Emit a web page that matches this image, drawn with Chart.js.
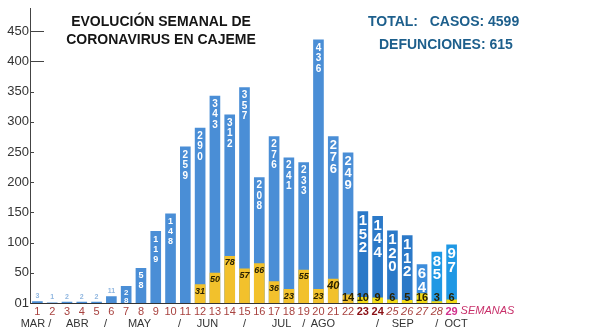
<!DOCTYPE html>
<html>
<head>
<meta charset="utf-8">
<script src="https://cdn.jsdelivr.net/npm/chart.js@4.4.1/dist/chart.umd.min.js"></script>
<style>
  html, body { margin: 0; padding: 0; background: #fff; }
  #wrap { width: 593px; height: 327px; position: relative; }
</style>
</head>
<body>
<div id="wrap"><canvas id="chart"></canvas></div>
<script>
// Weekly data
const weeks = ['1', '2', '3', '4', '5', '6', '7', '8', '9', '10', '11', '12', '13', '14', '15',
               '16', '17', '18', '19', '20', '21', '22', '23', '24', '25', '26', '27', '28', '29'];
const cases = [3, 1, 2, 2, 2, 11, 28, 58, 119, 148, 259, 290, 343, 312, 357,
               208, 276, 241, 233, 436, 276, 249, 152, 144, 120, 112, 64, 85, 97];
const deaths = [0, 0, 0, 0, 0, 0, 0, 0, 0, 0, 0, 31, 50, 78, 57,
                66, 36, 23, 55, 23, 40, 14, 10, 9, 6, 5, 16, 3, 6];

const yTickValues = [0, 50, 100, 150, 200, 250, 300, 350, 400, 450];
const yTickLabels = ['01', '50', '100', '150', '200', '250', '300', '350', '400', '450'];

// month names under the week numbers, placed by week index
const monthLabels = ['MAR /', 'ABR', '/', 'MAY', '/', 'JUN', '/', 'JUL', '/', 'AGO', '/', 'SEP', '/', 'OCT'];
const monthAt = [-0.1, 2.7, 4.6, 6.9, 9.6, 11.5, 14, 16.5, 18, 19.3, 23, 24.7, 27, 28.3];

const titleLines = ['EVOLUCIÓN SEMANAL DE', 'CORONAVIRUS EN CAJEME'];
const totalLines = ['TOTAL:   CASOS: 4599', 'DEFUNCIONES: 615'];

const FONT = '"Liberation Sans", Arial, sans-serif';
Chart.defaults.font.family = FONT;

// Bar colours
function caseColor(i) {
    if (i >= 27) return '#1f98e4';
    if (i === 26) return '#3d8ddb';
    if (i >= 22) return '#2b79c8';
    return '#4a8ed6';
}
function deathColor(i) {
    if (i >= 22) return '#f3dc16';
    return '#f2c12c';
}

// Numbers written inside the bars
const barText = {
    id: 'barText',
    afterDatasetsDraw(chart) {
        const ctx = chart.ctx;
        const bottom = chart.chartArea.bottom;
        const caseBars = chart.getDatasetMeta(0).data;
        const deathBars = chart.getDatasetMeta(1).data;
        ctx.save();
        ctx.textAlign = 'center';
        ctx.textBaseline = 'middle';

        caseBars.forEach((bar, i) => {
            const v = cases[i];
            const s = String(v);
            if (v < 20) {
                // tiny bars: label sits just above
                ctx.fillStyle = '#8fb6e0';
                ctx.font = `bold 7px ${FONT}`;
                ctx.fillText(s, bar.x, bar.y - 5);
                return;
            }
            let f, step;
            if (i >= 22) { f = 15; step = 13.5; }
            else if (i >= 20) { f = 13; step = 12; }
            else if (i >= 10) { f = 10; step = 10.5; }
            else if (v < 40) { f = 8; step = 7.5; }
            else { f = 9; step = 10; }
            ctx.fillStyle = '#ffffff';
            ctx.font = `bold ${f}px ${FONT}`;
            [...s].forEach((d, k) => {
                ctx.fillText(d, bar.x, bar.y + 3 + step / 2 + k * step);
            });
        });

        deathBars.forEach((bar, i) => {
            const v = deaths[i];
            if (!v) return;
            ctx.fillStyle = '#2b2200';
            if (i >= 21) ctx.font = `bold 11px ${FONT}`;
            else if (i === 20) ctx.font = `italic bold 11px ${FONT}`;
            else ctx.font = `italic bold 9px ${FONT}`;
            const y = Math.min(bar.y + 7, bottom - 5);
            ctx.fillText(String(v), bar.x, y);
        });
        ctx.restore();
    }
};

// Titles, axis dashes, month names
const decorations = {
    id: 'decorations',
    afterDraw(chart) {
        const ctx = chart.ctx;
        const xs = chart.scales.x;
        const ys = chart.scales.y;
        ctx.save();

        // little dashes on the y axis
        ctx.strokeStyle = '#444';
        ctx.lineWidth = 1;
        yTickValues.forEach(v => {
            if (v === 0) return;
            const y = Math.round(ys.getPixelForValue(v)) + 0.5;
            const len = v >= 400 ? 14 : 4;
            ctx.beginPath();
            ctx.moveTo(ys.right, y);
            ctx.lineTo(ys.right + len, y);
            ctx.stroke();
        });

        // title
        ctx.fillStyle = '#151515';
        ctx.font = `bold 14px ${FONT}`;
        ctx.textAlign = 'center';
        ctx.textBaseline = 'middle';
        ctx.fillText(titleLines[0], 161, 22);
        ctx.fillText(titleLines[1], 161, 40);

        // totals
        ctx.fillStyle = '#1d5f8c';
        ctx.font = `bold 14px ${FONT}`;
        ctx.textAlign = 'left';
        ctx.fillText(totalLines[0], 368, 22);
        ctx.fillText(totalLines[1], 379, 45);

        // SEMANAS after last week number
        const last = xs.getPixelForValue(weeks.length - 1);
        ctx.fillStyle = '#c8306a';
        ctx.font = `italic 11px ${FONT}`;
        ctx.textAlign = 'left';
        ctx.fillText('SEMANAS', last + 9, chart.chartArea.bottom + 8);

        // month names
        ctx.fillStyle = '#333';
        ctx.font = `11px ${FONT}`;
        ctx.textAlign = 'center';
        ctx.textBaseline = 'top';
        monthLabels.forEach((m, k) => {
            ctx.fillText(m, xs.getPixelForValue(monthAt[k]), chart.chartArea.bottom + 15);
        });
        ctx.restore();
    }
};

document.addEventListener('DOMContentLoaded', () => {
    const ctx = document.getElementById('chart').getContext('2d');

    new Chart(ctx, {
        type: 'bar',
        data: {
            labels: weeks,
            datasets: [
                {
                    label: 'Casos',
                    data: cases,
                    backgroundColor: cases.map((_, i) => caseColor(i)),
                    borderWidth: 0,
                    grouped: false,
                    order: 2,
                    barPercentage: 0.72,
                    categoryPercentage: 1
                },
                {
                    label: 'Defunciones',
                    data: deaths,
                    backgroundColor: deaths.map((_, i) => deathColor(i)),
                    borderWidth: 0,
                    grouped: false,
                    order: 1,
                    barPercentage: 0.72,
                    categoryPercentage: 1
                }
            ]
        },
        options: {
            responsive: true,
            maintainAspectRatio: false,
            animation: false,
            layout: {
                padding: { top: 5, right: 134, left: 0, bottom: 0 }
            },
            plugins: {
                legend: { display: false },
                tooltip: { enabled: false }
            },
            scales: {
                x: {
                    offset: true,
                    grid: { display: false, drawTicks: false },
                    border: { display: true, color: '#333', width: 1 },
                    afterFit: s => { s.height = 24; },
                    ticks: {
                        padding: 2,
                        autoSkip: false,
                        maxRotation: 0,
                        color: c => {
                            if (c.index === 28) return '#d2308c';
                            if (c.index === 22 || c.index === 23) return '#8a0f14';
                            return '#a8423f';
                        },
                        font: c => {
                            if (c.index === 22 || c.index === 23 || c.index === 28) {
                                return { size: 11, weight: 'bold' };
                            }
                            if (c.index >= 24) return { size: 11, style: 'italic' };
                            return { size: 11 };
                        }
                    }
                },
                y: {
                    min: 0,
                    max: 487,
                    grid: { display: false, drawTicks: false },
                    border: { display: true, color: '#444', width: 1 },
                    afterFit: s => { s.width = 30; },
                    afterBuildTicks: s => {
                        s.ticks = yTickValues.map(v => ({ value: v }));
                    },
                    ticks: {
                        padding: 1,
                        color: '#333',
                        font: { size: 13 },
                        callback: (value) => yTickLabels[yTickValues.indexOf(value)]
                    }
                }
            }
        },
        plugins: [barText, decorations]
    });
});
</script>
</body>
</html>
